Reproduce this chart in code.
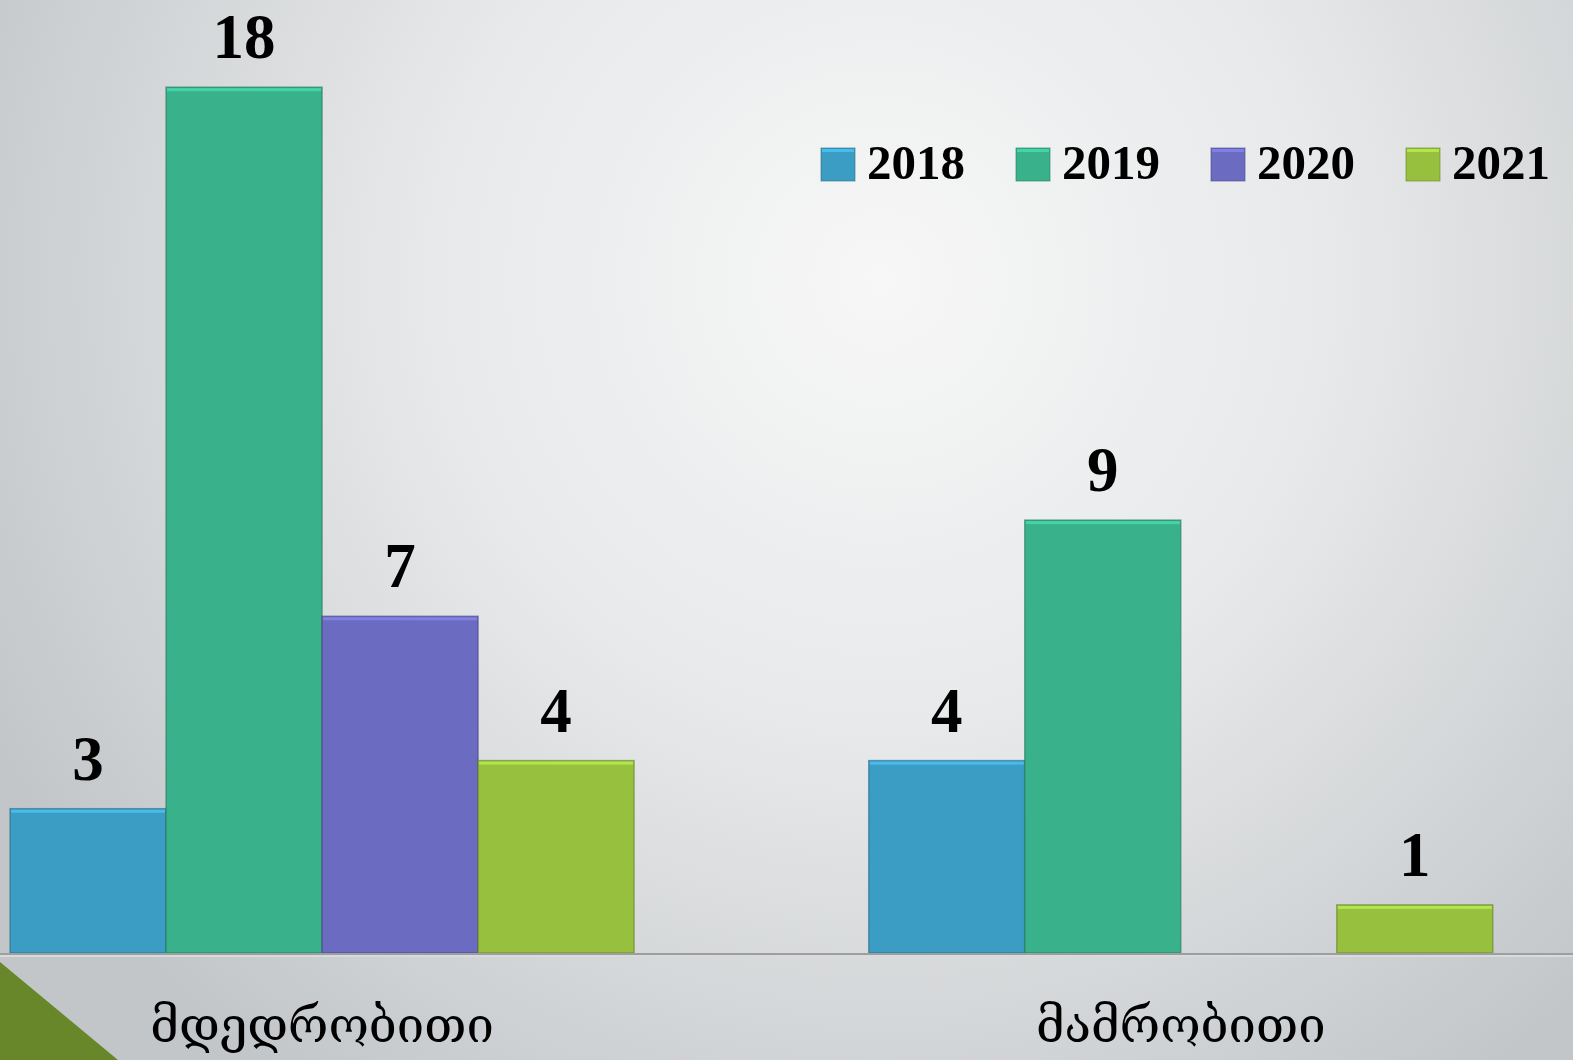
<!DOCTYPE html>
<html>
<head>
<meta charset="utf-8">
<script src="https://cdn.jsdelivr.net/npm/d3@7"></script>
<style>
  html, body { margin: 0; padding: 0; overflow: hidden; }
  svg { display: block; }
  .value-label { font-family: "Liberation Serif", "DejaVu Serif", serif; font-weight: bold; }
  .legend text { font-family: "Liberation Serif", "DejaVu Serif", serif; font-weight: bold; }
  .category { font-family: "DejaVu Serif", "DejaVu Sans", serif; }
</style>
</head>
<body>
<div id="chart"></div>
<script>
var categories = ["მდედრობითი", "მამრობითი"];
var years = ["2018", "2019", "2020", "2021"];
var values2018 = [3, 4];
var values2019 = [18, 9];
var values2020 = [7, null];
var values2021 = [4, 1];

var seriesValues = [values2018, values2019, values2020, values2021];
var colors = ["#3c9dc4", "#39b28c", "#6b6bc1", "#97c03f"];

var width = 1573;
var height = 1060;

var rows = [];
categories.forEach(function(c, ci) {
  years.forEach(function(y, yi) {
    rows.push({ category: c, year: y, value: seriesValues[yi][ci], idx: yi });
  });
});

var svg = d3
  .select("#chart")
  .append("svg")
  .attr("width", width)
  .attr("height", height);

var defs = svg.append("defs");
var bg = defs
  .append("radialGradient")
  .attr("id", "bg")
  .attr("gradientUnits", "userSpaceOnUse")
  .attr("cx", 880)
  .attr("cy", 280)
  .attr("r", 1000);
bg.append("stop").attr("offset", "0").attr("stop-color", "#f7f7f7");
bg.append("stop").attr("offset", "0.45").attr("stop-color", "#e7e9ea");
bg.append("stop").attr("offset", "1").attr("stop-color", "#c3c6c9");

svg
  .append("rect")
  .attr("width", width)
  .attr("height", height)
  .attr("fill", "url(#bg)");

// bottom-left corner accent
svg
  .append("path")
  .attr("d", "M0,962 L118,1060 L0,1060 Z")
  .attr("fill", "#67872a");

var scaleX = d3
  .scaleBand()
  .domain(categories)
  .range([-107.3, 1610.1])
  .paddingInner(0.2733)
  .paddingOuter(0.2733 / 2);

var scaleSeries = d3
  .scaleBand()
  .domain(years)
  .range([0, scaleX.bandwidth()]);

var scaleY = d3
  .scaleLinear()
  .domain([0, 20])
  .range([953, -9]);

var panel = svg.append("g").attr("class", "panel");

var bars = panel
  .selectAll(".bar")
  .data(rows.filter(function(d) {
    return d.value != null;
  }))
  .enter()
  .append("g")
  .attr("class", "bar");

bars
  .append("rect")
  .attr("x", function(d) {
    return scaleX(d.category) + scaleSeries(d.year);
  })
  .attr("y", function(d) {
    return scaleY(d.value);
  })
  .attr("width", scaleSeries.bandwidth())
  .attr("height", function(d) {
    return scaleY(0) - scaleY(d.value);
  })
  .attr("fill", function(d) {
    return colors[d.idx];
  })
  .attr("stroke", function(d) {
    return d3.color(colors[d.idx]).darker(1.1);
  })
  .attr("stroke-opacity", 0.6)
  .attr("stroke-width", 1.5);

// lighter top edge
bars
  .append("rect")
  .attr("x", function(d) {
    return scaleX(d.category) + scaleSeries(d.year) + 1;
  })
  .attr("y", function(d) {
    return scaleY(d.value) + 1;
  })
  .attr("width", scaleSeries.bandwidth() - 2)
  .attr("height", 3)
  .attr("fill", function(d) {
    return d3.color(colors[d.idx]).brighter(0.5);
  });

bars
  .append("text")
  .attr("class", "value-label")
  .attr("x", function(d) {
    return scaleX(d.category) + scaleSeries(d.year) + scaleSeries.bandwidth() / 2;
  })
  .attr("y", function(d) {
    return scaleY(d.value) - 29;
  })
  .attr("text-anchor", "middle")
  .attr("font-size", 63)
  .attr("fill", "#000")
  .text(function(d) {
    return d.value;
  });

// base line
panel
  .append("line")
  .attr("x1", 0)
  .attr("x2", width)
  .attr("y1", scaleY(0) + 1)
  .attr("y2", scaleY(0) + 1)
  .attr("stroke", "#9c9ea0")
  .attr("stroke-width", 2);
panel
  .append("line")
  .attr("x1", 0)
  .attr("x2", width)
  .attr("y1", scaleY(0) + 3)
  .attr("y2", scaleY(0) + 3)
  .attr("stroke", "#d8dadb")
  .attr("stroke-width", 2);

panel
  .selectAll(".category")
  .data(categories)
  .enter()
  .append("text")
  .attr("class", "category")
  .attr("x", function(d) {
    return scaleX(d) + scaleX.bandwidth() / 2;
  })
  .attr("y", 1042)
  .attr("text-anchor", "middle")
  .attr("font-size", 49)
  .attr("fill", "#000")
  .text(function(d) {
    return d;
  });

var legend = svg
  .append("g")
  .attr("class", "legend")
  .selectAll(".item")
  .data(years)
  .enter()
  .append("g")
  .attr("class", "item")
  .attr("transform", function(d, i) {
    return "translate(" + (821 + i * 195) + ",148)";
  });

legend
  .append("rect")
  .attr("width", 34)
  .attr("height", 33)
  .attr("fill", function(d, i) {
    return colors[i];
  })
  .attr("stroke", function(d, i) {
    return d3.color(colors[i]).darker(1.1);
  })
  .attr("stroke-opacity", 0.6);

legend
  .append("rect")
  .attr("x", 1)
  .attr("y", 1)
  .attr("width", 32)
  .attr("height", 3)
  .attr("fill", function(d, i) {
    return d3.color(colors[i]).brighter(0.5);
  });

legend
  .append("text")
  .attr("x", 46)
  .attr("y", 31)
  .attr("font-size", 49)
  .attr("fill", "#000")
  .text(function(d) {
    return d;
  });
</script>
</body>
</html>
